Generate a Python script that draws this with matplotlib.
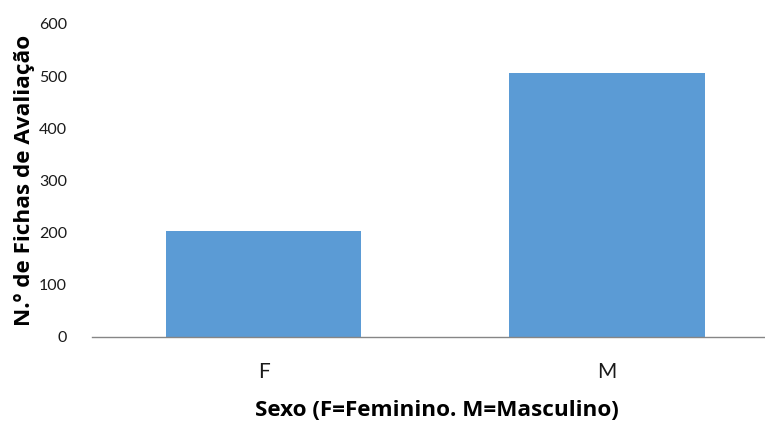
import matplotlib
matplotlib.use("Agg")
import matplotlib.pyplot as plt

categories = ["F", "M"]
values = [204, 506]
y_ticks = [0, 100, 200, 300, 400, 500, 600]
x_label = "Sexo (F=Feminino. M=Masculino)"
y_label = "N.º de Fichas de Avaliação"

W, H = 765, 421
fig = plt.figure(figsize=(W / 100, H / 100), dpi=100)
left, right, top, bottom = 92, 765, 24, 337
ax = fig.add_axes([left / W, 1 - bottom / H, (right - left) / W, (bottom - top) / H])

x = list(range(len(categories)))
ax.bar(x, values, width=0.57, color="#5B9BD5", edgecolor="none", zorder=2)

ax.set_ylim(0, 600)
ax.set_yticks(y_ticks)
ax.set_xlim(-0.5, 1.461)
ax.set_xticks(x)
ax.set_xticklabels(categories)

for s in ["top", "right", "left"]:
    ax.spines[s].set_visible(False)
ax.spines["bottom"].set_color("#868686")
ax.spines["bottom"].set_linewidth(1.0)
ax.tick_params(axis="both", length=0, colors="#1a1a1a", labelsize=11.5)
ax.tick_params(axis="y", pad=18)
ax.tick_params(axis="x", pad=18, labelsize=15)
for lab in ax.get_xticklabels() + ax.get_yticklabels():
    lab.set_fontfamily("Lato")

ax.set_xlabel(x_label, fontsize=16.2, fontweight="bold", fontfamily="Open Sans", color="black")
ax.set_ylabel(y_label, fontsize=16.2, fontweight="bold", fontfamily="Open Sans", color="black")
ax.xaxis.set_label_coords((437 - left) / (right - left), -(411 - bottom) / (bottom - top), transform=ax.transAxes)
ax.yaxis.set_label_coords(-(left - 25) / (right - left), 0.5, transform=ax.transAxes)
ax.xaxis.label.set_va("center")
ax.yaxis.label.set_va("center")

fig.savefig("out.png", dpi=100)
